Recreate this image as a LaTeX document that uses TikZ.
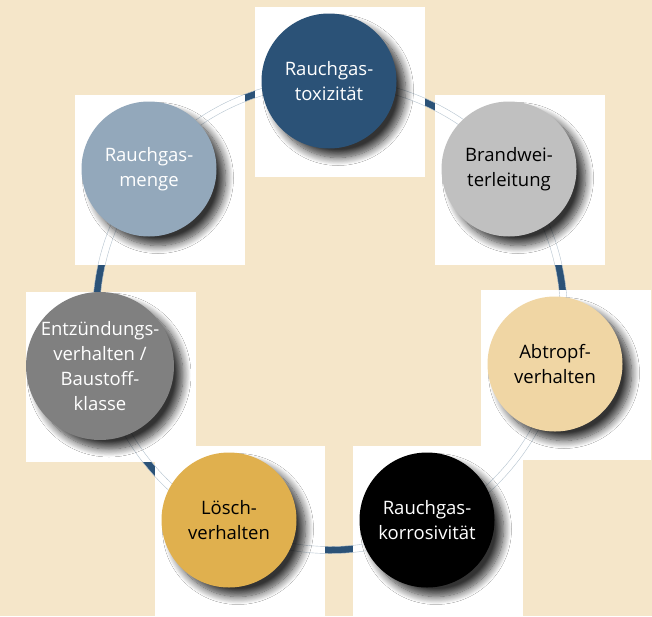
\documentclass[tikz,border=0pt]{standalone}
\usepackage{fontspec}
\setmainfont{Open Sans}
\usepackage{tikz}
\usetikzlibrary{positioning}
\usetikzlibrary{calc}
\usetikzlibrary{shadows.blur}

\definecolor{hintergrund}{HTML}{F5E6C9}
\definecolor{ringblau}{HTML}{2B5277}
\definecolor{hellgrau}{HTML}{C0C0C0}
\definecolor{sand}{HTML}{F0D6A4}
\definecolor{ocker}{HTML}{E0B04E}
\definecolor{mittelgrau}{HTML}{808080}
\definecolor{graublau}{HTML}{93A8BB}

\begin{document}
\begin{tikzpicture}[x=1pt, y=-1pt,
		kasten/.style={
			shape=rectangle,
			fill=white,
			minimum size=170pt,
			inner sep=0pt
		},
		kreis/.style={
			shape=circle,
			minimum size=135pt,
			inner sep=0pt,
			align=center,
			font=\fontsize{18.5}{25}\selectfont,
			blur shadow={shadow xshift=9pt, shadow yshift=-9pt, shadow blur radius=8pt, shadow blur steps=12, shadow opacity=80}
		},
		hell/.style={kreis, text=white},
		dunkel/.style={kreis, text=black}
		]
		% Hintergrund
		\useasboundingbox (0,0) rectangle (652,616);
		\fill[hintergrund] (0,0) rectangle (652,616);
		% Ring
		\coordinate (mitte) at (330,316);
		\draw[ringblau, line width=7pt] (mitte) circle[radius=234pt];
		% Kaesten
		\node[kasten] (k-toxiz) at (340,92) {};
		\node[kasten] (k-brand) at (520,180) {};
		\node[kasten] (k-abtropf) at (566,375) {};
		\node[kasten] (k-korros) at (438,531) {};
		\node[kasten] (k-loesch) at (240,531) {};
		\node[kasten] (k-entz) at (111,377) {};
		\node[kasten] (k-menge) at (160,180) {};
		% Ringkanten
		\draw[ringblau!35, line width=0.4pt] (mitte) circle[radius=230.5pt];
		\draw[ringblau!35, line width=0.4pt] (mitte) circle[radius=237.5pt];
		% Kreise
		\node[hell, fill=ringblau] (toxiz) at ($(k-toxiz)+(-11,-11)$) {Rauchgas-\\toxizität};
		\node[dunkel, fill=hellgrau] (brand) at ($(k-brand)+(-11,-11)$) {Brandwei-\\terleitung};
		\node[dunkel, fill=sand] (abtropf) at ($(k-abtropf)+(-11,-11)$) {Abtropf-\\verhalten};
		\node[hell, fill=black] (korros) at ($(k-korros)+(-11,-11)$) {Rauchgas-\\korrosivität};
		\node[dunkel, fill=ocker] (loesch) at ($(k-loesch)+(-11,-11)$) {Lösch-\\verhalten};
		\node[hell, fill=mittelgrau] (entz) at ($(k-entz)+(-11,-11)$) {Entzündungs-\\verhalten /\\Baustoff-\\klasse};
		\node[hell, fill=graublau] (menge) at ($(k-menge)+(-11,-11)$) {Rauchgas-\\menge};
	\end{tikzpicture}
\end{document}
